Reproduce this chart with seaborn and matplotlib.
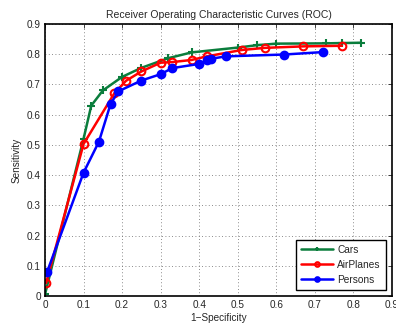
import pandas as pd
import matplotlib
matplotlib.use('Agg')
import matplotlib.pyplot as plt
import seaborn as sns

# --- Data ---
CARS_FPR = [0.0, 0.10, 0.12, 0.15, 0.20, 0.25, 0.32, 0.38, 0.50, 0.55, 0.60, 0.73, 0.77, 0.82]
CARS_TPR = [0.005, 0.52, 0.63, 0.68, 0.725, 0.755, 0.787, 0.806, 0.822, 0.830, 0.835, 0.836, 0.837, 0.838]

PLANES_FPR = [0.003, 0.10, 0.18, 0.21, 0.25, 0.30, 0.33, 0.38, 0.42, 0.51, 0.57, 0.67, 0.77]
PLANES_TPR = [0.043, 0.503, 0.671, 0.712, 0.743, 0.772, 0.774, 0.781, 0.793, 0.814, 0.821, 0.826, 0.828]

PERSONS_FPR = [0.005, 0.10, 0.14, 0.17, 0.19, 0.25, 0.30, 0.33, 0.40, 0.42, 0.43, 0.47, 0.62, 0.72, 0.72]
PERSONS_TPR = [0.078, 0.408, 0.511, 0.635, 0.677, 0.713, 0.734, 0.754, 0.768, 0.780, 0.785, 0.793, 0.799, 0.803, 0.811]

# name, x, y, colour, marker, marker face
SERIES = [
    ('Cars', CARS_FPR, CARS_TPR, '#0a7d3c', '+', 'full'),
    ('AirPlanes', PLANES_FPR, PLANES_TPR, '#ff0000', 'o', 'none'),
    ('Persons', PERSONS_FPR, PERSONS_TPR, '#0000ff', 'o', 'full'),
]

TICKS = [0, 0.1, 0.2, 0.3, 0.4, 0.5, 0.6, 0.7, 0.8, 0.9]
TICK_LABELS = ['0', '0.1', '0.2', '0.3', '0.4', '0.5', '0.6', '0.7', '0.8', '0.9']

sns.set_style('white')
plt.rcParams['font.family'] = ['Liberation Sans', 'DejaVu Sans']

fig = plt.figure(figsize=(3.96, 3.27), dpi=100)
ax = fig.add_axes([0.1136, 0.0948, 0.8764, 0.8318])

for name, fpr, tpr, color, marker, fill in SERIES:
    df = pd.DataFrame({'fpr': fpr, 'tpr': tpr})
    face = 'none' if fill == 'none' else color
    size = 6 if marker == '+' else 5.5
    sns.lineplot(data=df, x='fpr', y='tpr', ax=ax, color=color, linewidth=1.8,
                 linestyle='-', marker=marker, markersize=size,
                 markerfacecolor=face, markeredgecolor=color,
                 markeredgewidth=1.5, sort=False, label=name)

ax.set_xlim(0, 0.9)
ax.set_ylim(0, 0.9)
ax.set_xticks(TICKS)
ax.set_xticklabels(TICK_LABELS)
ax.set_yticks(TICKS)
ax.set_yticklabels(TICK_LABELS)
ax.tick_params(axis='both', direction='in', length=3, width=0.6, labelsize=7.2,
               top=True, right=True, pad=3)
ax.grid(True, linestyle=(0, (1, 3)), linewidth=0.6, color='#666666')
for spine in ax.spines.values():
    spine.set_color('black')
    spine.set_linewidth(1.2)

ax.set_title('Receiver Operating Characteristic Curves (ROC)', fontsize=7.5, pad=4)
ax.set_xlabel('1\u2212Specificity', fontsize=7.2, labelpad=2)
ax.set_ylabel('Sensitivity', fontsize=7.2, labelpad=4)

legend = ax.legend(loc='lower right', fontsize=7.3, frameon=True, fancybox=False,
                   edgecolor='black', framealpha=1, borderaxespad=0.6,
                   handlelength=3.2, handletextpad=0.4, labelspacing=0.5,
                   borderpad=0.5, markerscale=0.6)
legend.get_frame().set_linewidth(1.0)

fig.savefig('out.png', dpi=100)
